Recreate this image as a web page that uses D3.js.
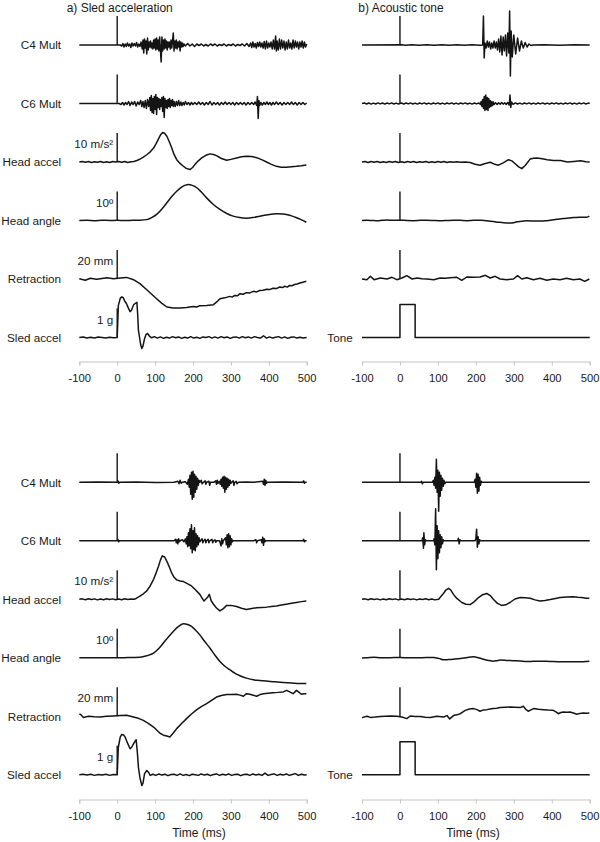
<!DOCTYPE html>
<html>
<head>
<meta charset="utf-8">
<script src="https://cdn.jsdelivr.net/npm/d3@7"></script>
<style>
  html, body { margin: 0; padding: 0; background: #fff; }
  svg { display: block; font-family: "Liberation Sans", Arial, sans-serif; }
</style>
</head>
<body>
<svg id="chart" width="600" height="842"></svg>
<script>
// ---------------- DATA ----------------
const timeTicks = [-100, 0, 100, 200, 300, 400, 500];
const rowNames = ["C4 Mult", "C6 Mult", "Head accel", "Head angle", "Retraction", "Sled accel"];
const rightLastRowName = "Tone";
const panelTitles = ["a) Sled acceleration", "b) Acoustic tone"];
const axisTitle = "Time (ms)";
// scale-bar value per row (EMG rows in arbitrary units, unlabeled)
const scaleBarValues = [29, 29, 10, 10, 20, 1];
const scaleBarLabels = ["", "", "10 m/s²", "10º", "20 mm", "1 g"];

// ---- a) Sled acceleration, top trial: [time ms, value] ----
const sledTopC4 = [[-100,0],[8,0],[12,-1],[15,1.5],[18,-2],[21,1],[24,-1.5],[27,2],[30,-1],[33,1],[36,-2.5],[39,2],[42,-1],[45,1.5],[48,-1],[51,2.5],[54,-2],[57,1],[60,-1.5],[63,3],[66,-4],[68,5],[70,-8],[72,6],[74,-3],[76,4],[78,-9],[80,7],[82,-5],[84,3],[86,-2],[88,4],[90,-3],[92,2],[94,-4],[96,5],[98,-3],[100,6],[102,-5],[104,7],[106,-4],[108,5],[110,-6],[112,8],[114,-5],[116,-17],[118,8],[120,-6],[122,5],[124,-4],[126,6],[128,-3],[130,4],[132,-5],[134,3],[136,-2],[138,3],[140,-4],[142,5],[144,-3],[146,4],[148,12],[150,-6],[152,4],[154,-3],[156,5],[158,-4],[160,3],[162,-2],[164,4],[166,-6],[168,3],[170,-2],[172,2],[174,-1.5],[176,1],[180,-1],[186,1.5],[192,-1],[198,1],[204,-1.5],[210,1],[216,-0.5],[222,1],[228,-1],[234,0.5],[240,-1],[246,1],[252,-0.5],[258,1],[264,-1],[270,0.5],[276,-0.5],[282,1],[288,-1],[294,0.5],[300,-0.5],[306,1],[312,-1],[318,0.5],[324,-0.5],[330,1],[336,-1],[342,1.5],[348,-1.5],[352,2],[355,-2.5],[358,3],[361,-2],[364,1.5],[367,-3],[370,2.5],[373,-1.5],[376,3],[379,-2],[382,2],[385,-3],[388,3.5],[391,-4],[394,4],[397,-3],[400,2],[403,-2],[406,3],[409,-4],[412,5],[415,-4],[418,9],[420,-6],[422,4],[425,-5],[428,6],[431,-4],[434,5],[437,-3],[440,4],[443,-5],[446,3],[449,-4],[452,5],[455,-3],[458,2],[461,-4],[464,5],[467,-3],[470,4],[473,-2],[476,3],[479,-4],[482,3],[485,-2],[488,4],[491,-3],[494,3],[497,-2],[500,1]];
const sledTopC6 = [[-100,0],[5,0],[10,-1],[14,1],[18,-1.5],[22,1],[26,-1],[30,2],[34,-2],[38,1.5],[42,-1],[46,2],[50,-2.5],[54,1.5],[58,-1],[62,3],[65,-3],[68,2],[71,-4],[74,3],[77,-5],[80,4],[83,-3],[86,6],[88,-7],[90,8],[92,-9],[94,5],[96,-10],[98,7],[100,-6],[102,9],[104,-11],[106,6],[108,-4],[110,5],[112,-6],[114,4],[116,-3],[118,6],[120,-8],[122,7],[124,-14],[126,5],[128,-4],[130,3],[132,-5],[134,4],[136,-3],[138,5],[140,-4],[142,3],[144,-2],[146,4],[148,-3],[150,2],[153,-3],[156,2],[159,-2],[162,3],[165,-2],[168,1.5],[171,-2],[174,1],[177,-1.5],[180,2],[184,-1],[188,1],[192,-1.5],[196,1],[200,-1],[205,1],[210,-1],[215,1.5],[220,-1],[225,1],[230,-1.5],[235,1],[240,-1],[245,2],[250,-1.5],[255,1],[260,-1],[265,1],[270,-1.5],[275,1],[280,-1],[285,1.5],[290,-1],[295,1],[300,-1],[305,1],[310,-1.5],[315,1],[320,-1],[325,1],[330,-1],[335,1],[340,-1.5],[345,1],[350,-1],[355,1],[360,-1],[364,1.5],[368,-2],[370,7],[372,-15],[374,3],[376,-2],[379,1],[383,-1.5],[387,1],[391,-1],[395,1.5],[399,-1],[403,1],[407,-1.5],[411,1],[415,-1],[420,1.5],[425,-1],[430,1],[435,-1.5],[440,1],[445,-1],[450,1],[455,-1],[460,1.5],[465,-1],[470,1],[475,-1.5],[480,1],[485,-1],[490,1],[495,-1],[500,0.5]];
const sledTopHeadAccel = [[-100,0],[-92,0.2],[-84,-0.1],[-76,0.15],[-68,-0.2],[-60,0.1],[-52,-0.1],[-44,0.2],[-36,-0.15],[-28,0.1],[-20,-0.2],[-12,0.15],[-4,0],[4,0.2],[12,-0.1],[20,0.15],[28,-0.15],[36,0.1],[44,0.2],[52,0.5],[60,1.0],[68,1.6],[78,2.5],[88,3.6],[96,4.8],[103,6.4],[109,8.0],[115,9.5],[120,10.2],[125,9.9],[131,8.9],[138,6.8],[144,4.8],[150,2.6],[157,0.8],[165,-0.4],[173,-1.3],[182,-2.2],[192,-2.6],[199,-1.9],[205,-0.9],[214,0.4],[223,1.4],[234,2.3],[245,2.8],[254,2.6],[262,2.2],[275,1.2],[289,0.6],[300,0.9],[315,1.4],[328,1.8],[341,2.0],[355,1.9],[368,1.5],[381,0.8],[394,0],[407,-0.8],[420,-1.5],[433,-1.8],[446,-1.8],[460,-1.6],[473,-1.5],[486,-1.3],[499,-1.0]];
const sledTopHeadAngle = [[-100,0],[-80,0.05],[-60,-0.05],[-40,0.1],[-20,0],[0,0.05],[20,0],[40,0.05],[60,0.1],[78,0.3],[91,1.0],[104,2.1],[118,4.0],[131,6.1],[144,8.3],[157,10.1],[170,11.5],[180,12.2],[188,12.4],[198,12.1],[210,11.3],[222,9.8],[236,7.8],[253,5.6],[271,3.8],[288,2.5],[306,1.5],[323,1.0],[341,0.8],[358,1.0],[376,1.5],[398,2.0],[420,2.3],[438,2.2],[455,1.8],[470,1.1],[485,0.3],[499,-0.6]];
const sledTopRetraction = [[-100,0.2],[-92,-0.4],[-84,-0.9],[-71,0.5],[-54,-0.2],[-40,0.4],[-27,0.9],[-10,0.2],[8,0.7],[25,1.1],[43,-0.5],[60,-3.2],[78,-7.4],[91,-10.5],[104,-13.6],[118,-16.8],[131,-19.3],[148,-20.0],[166,-20.0],[183,-19.6],[201,-18.9],[210,-19.3],[218,-18.4],[236,-18.2],[254,-17.7],[262,-16.0],[271,-13.6],[284,-13.0],[297,-12.0],[303,-12.5],[310,-11.3],[317,-11.6],[324,-10.1],[332,-10.5],[341,-9.4],[350,-9.6],[359,-8.5],[368,-8.9],[376,-7.9],[385,-7.8],[394,-7.1],[402,-7.3],[411,-6.4],[420,-6.6],[429,-5.5],[436,-5.9],[442,-5.0],[449,-5.6],[455,-4.4],[462,-4.6],[468,-3.8],[475,-3.5],[482,-2.8],[490,-2.2],[499,-1.6]];
const sledTopSled = [[-100,0],[-90,0.02],[-80,-0.02],[-70,0.01],[-60,-0.02],[-50,0.02],[-40,0],[-30,-0.02],[-20,0.01],[-10,-0.01],[0,0],[3,1.1],[8,1.35],[12,1.40],[16,1.37],[20,1.25],[24,1.18],[29,1.03],[34,0.89],[38,0.95],[43,1.12],[48,1.18],[52,1.21],[54,0.8],[56,0.25],[59,0.0],[62,-0.25],[65,-0.38],[68,-0.3],[72,-0.05],[76,0.1],[80,0.14],[85,0.05],[91,-0.01],[98,0.03],[106,-0.02],[114,0.02],[122,-0.03],[130,0.01],[138,-0.02],[146,0.03],[154,-0.01],[162,0.02],[170,-0.03],[178,0.01],[186,-0.02],[194,0.03],[202,-0.02],[210,0.01],[218,-0.03],[226,0.02],[234,0.0],[242,0.03],[250,-0.02],[258,0.02],[266,-0.02],[274,0.03],[282,-0.01],[290,0.02],[298,-0.03],[306,0.01],[314,0.02],[322,-0.02],[330,0.03],[338,-0.01],[346,0.02],[354,-0.02],[362,0.03],[370,0],[378,-0.02],[386,0.06],[394,-0.02],[402,0.02],[410,-0.02],[418,0.01],[426,0.03],[434,-0.02],[442,0.02],[450,-0.03],[458,0.01],[466,0.02],[474,-0.02],[482,0.01],[490,-0.02],[500,0]];

// ---- b) Acoustic tone, top trial ----
const toneTopC4 = [[-100,0],[5,0.3],[15,-0.3],[30,0.3],[50,-0.3],[70,0.3],[90,-0.3],[110,0.3],[130,-0.3],[150,0.3],[170,-0.3],[190,0.3],[210,-0.3],[218,0],[220,29],[222,-13],[224,2],[227,-3],[230,4],[233,-2],[236,3],[239,-4],[242,2],[245,-3],[248,4],[251,-3],[254,3],[257,-5],[260,6],[263,-7],[266,9],[269,-10],[272,8],[275,-6],[278,10],[281,-11],[284,12],[287,-8],[289,34],[291,-31],[293,14],[296,-12],[300,10],[305,-9],[310,7],[315,-6],[320,4],[325,-3],[330,2.5],[335,-2],[340,1],[345,-0.5],[350,0],[380,0.3],[420,-0.3],[460,0.3],[500,0]];
const toneTopC6 = [[-100,0],[-94,0.6],[-88,-0.5],[-82,0.5],[-76,-0.6],[-70,0.4],[-64,-0.5],[-58,0.6],[-52,-0.4],[-46,0.5],[-40,-0.6],[-34,0.5],[-28,-0.4],[-22,0.6],[-16,-0.5],[-10,0.4],[-4,-0.5],[0,0],[4,0.5],[10,-0.6],[16,0.5],[22,-0.4],[28,0.6],[34,-0.5],[40,0.4],[46,-0.6],[52,0.5],[58,-0.4],[64,0.6],[70,-0.5],[76,0.4],[82,-0.6],[88,0.5],[94,-0.4],[100,0.6],[106,-0.5],[112,0.4],[118,-0.6],[124,0.5],[130,-0.4],[136,0.6],[142,-0.5],[148,0.4],[154,-0.6],[160,0.5],[166,-0.4],[172,0.6],[178,-0.5],[184,0.4],[190,-0.6],[196,0.5],[202,-0.4],[208,0.6],[212,-1],[214,2],[216,-3],[218,4],[220,-5],[222,7],[224,-7],[226,8.5],[228,-6],[230,6],[232,-7],[234,5],[236,-4],[238,3],[240,-3],[242,2],[244,-2],[246,1.5],[248,-1],[252,0.8],[256,-1],[260,0.8],[264,-0.8],[268,1],[272,-0.6],[276,0.8],[280,-1],[284,1],[288,-1.5],[290,8.5],[292,-4],[294,1.5],[298,-0.8],[304,0.6],[310,-0.5],[316,0.4],[322,-0.6],[328,0.5],[334,-0.4],[340,0.6],[346,-0.5],[352,0.4],[358,-0.6],[364,0.5],[370,-0.4],[376,0.6],[382,-0.5],[388,0.4],[394,-0.6],[400,0.5],[406,-0.4],[412,0.6],[418,-0.5],[424,0.4],[430,-0.6],[436,0.5],[442,-0.4],[448,0.6],[454,-0.5],[460,0.4],[466,-0.6],[472,0.5],[478,-0.4],[484,0.6],[490,-0.5],[496,0.4],[500,0]];
const toneTopHeadAccel = [[-100,0],[-92,0.2],[-84,-0.15],[-76,0.2],[-68,-0.1],[-60,0.15],[-52,-0.2],[-44,0.1],[-36,-0.15],[-28,0.2],[-20,-0.1],[-12,0.15],[-4,-0.2],[4,0.1],[12,-0.15],[20,0.2],[28,-0.1],[36,0.15],[44,-0.2],[52,0.1],[60,-0.1],[68,0.2],[76,-0.15],[84,0.1],[92,-0.2],[100,0.15],[108,-0.1],[116,0.2],[124,-0.15],[132,0.1],[140,-0.1],[150,0.1],[160,-0.1],[172,0],[185,-0.2],[198,-0.8],[211,-1.1],[225,-0.5],[238,-0.1],[250,-0.8],[260,-1.1],[272,-0.3],[286,0.8],[295,0.4],[303,-0.5],[312,-1.6],[321,-2.3],[330,-1.2],[343,1.0],[352,1.3],[361,1.4],[375,1.1],[388,0.8],[405,0.5],[423,0.5],[441,0],[458,0.2],[476,0.4],[490,0.1],[500,0]];
const toneTopHeadAngle = [[-100,0],[-87,0.1],[-73,0],[-60,-0.1],[-47,0.05],[-34,0.2],[-17,0.05],[1,0.1],[18,0],[36,-0.05],[54,0.05],[71,0.1],[89,0],[106,-0.1],[124,0],[141,0.1],[159,0.05],[176,-0.05],[194,0.05],[211,0.1],[228,-0.1],[246,-0.35],[260,-0.6],[273,-0.8],[290,-0.9],[300,-0.75],[308,-0.45],[321,-0.3],[334,-0.1],[352,-0.15],[369,-0.2],[383,-0.1],[396,0.1],[414,0.4],[431,0.7],[444,0.85],[457,1.0],[475,1.1],[492,1.15],[499,1.5]];
const toneTopRetraction = [[-100,0],[-87,-0.46],[-78,1.84],[-68,-0.46],[-52,0.69],[-34,0],[-21,1.15],[-8,-0.46],[5,0.69],[18,2.3],[32,0],[45,0.69],[58,0.2],[71,0],[89,-0.46],[106,0.69],[119,0.5],[132,0.92],[150,1.15],[163,-0.92],[176,1.38],[194,1.15],[211,1.38],[225,2.53],[238,0.69],[251,1.84],[264,0],[282,-0.46],[299,0],[310,2.3],[321,0],[334,0.92],[352,-0.46],[369,0.46],[387,-0.92],[404,0],[422,-0.46],[439,0.46],[457,-0.46],[474,0],[487,-1.6],[499,0]];
const toneTopTone = [[-100,0],[0,0],[0,1],[40,1],[40,0],[500,0]];

// ---- a) Sled acceleration, bottom trial ----
const sledBotC4 = [[-100,0],[-50,0.3],[0,0],[2,1.5],[4,-1],[6,0],[50,0.3],[100,-0.3],[150,0],[160,1],[163,-1.5],[166,2],[169,-1],[172,0],[180,0.5],[185,-2],[188,3],[190,-5],[192,7],[194,-12],[196,10],[198,-17],[200,11],[202,-15],[204,8],[206,-10],[208,6],[210,-7],[212,4],[214,-3],[216,2],[218,0],[222,2],[224,-1.5],[228,0],[232,1.5],[234,-2],[236,0],[242,1],[244,-3],[246,0],[255,0],[260,1.5],[262,-2],[264,2],[266,-1],[270,1],[272,-2],[274,3],[276,-4],[278,5],[280,-6],[282,6],[284,-10],[286,5],[288,-7],[290,4],[292,-5],[294,3],[296,-3],[298,2],[300,-1],[302,0],[306,1.5],[308,-3],[310,0],[314,1],[316,-1.5],[320,0],[340,0.3],[360,0],[384,1],[386,-2],[388,3],[390,-3],[392,2],[394,-1],[396,0],[440,0.3],[490,0],[492,1.5],[494,-1],[496,0],[500,0]];
const sledBotC6 = [[-100,0],[0,0],[2,1.5],[4,-1],[6,0],[150,0],[154,1.5],[156,-2],[158,1],[160,-3],[162,2],[164,-1],[166,0],[172,1],[176,-1],[180,2],[182,-3],[184,4],[186,-6],[188,8],[190,-5],[192,12],[194,-8],[196,16],[198,-12],[200,10],[202,-9],[204,13],[206,-10],[208,7],[210,-6],[212,5],[214,-4],[216,3],[218,-1],[220,0],[224,2],[226,-2],[228,0],[232,1.5],[234,-2],[236,0],[240,1.5],[242,-2],[244,0],[250,1.5],[252,-2],[254,0],[258,1],[260,-1.5],[262,0],[270,0],[274,-5],[276,2],[278,-3],[280,0],[286,3],[288,-4],[290,6],[292,-7],[294,7],[296,-6],[298,5],[300,-4],[302,2],[304,-1],[306,0],[360,0],[366,1],[368,-2],[370,0],[380,1],[382,-2],[384,3.5],[386,-4.5],[388,2],[390,-1],[392,0],[490,0],[492,1.5],[494,-1],[496,0],[500,0]];
const sledBotHeadAccel = [[-100,0],[-92,0.15],[-84,-0.15],[-76,0.2],[-68,-0.1],[-60,0.15],[-52,-0.2],[-44,0.1],[-36,-0.15],[-28,0.2],[-20,-0.1],[-12,0.15],[-4,-0.15],[4,0.1],[12,-0.15],[20,0.2],[28,-0.1],[36,0.1],[44,0],[50,0.3],[60,1.1],[69,1.9],[78,2.9],[87,4.6],[96,6.9],[103,9.2],[109,11.4],[114,13.5],[119,15.0],[125,14.6],[131,13.1],[138,11.0],[144,9.0],[150,7.6],[157,6.7],[166,6.3],[175,6.1],[185,5.4],[196,4.6],[207,3.2],[218,1.7],[224,0.4],[229,-0.6],[234,0.1],[238,0.6],[243,1.7],[248,-0.5],[254,-1.7],[262,-3.0],[271,-4.0],[280,-3.2],[289,-2.1],[300,-2.1],[315,-2.5],[328,-3.1],[341,-3.5],[355,-3.2],[368,-2.9],[381,-2.8],[394,-2.7],[407,-2.5],[420,-2.3],[433,-2.0],[446,-1.7],[460,-1.4],[473,-1.1],[486,-0.8],[499,-0.6]];
const sledBotHeadAngle = [[-100,0],[-60,0.05],[-20,0],[20,0.05],[60,0.2],[78,0.7],[96,1.6],[109,3.1],[122,5.1],[135,7.2],[148,9.1],[162,10.8],[175,11.7],[186,11.5],[196,10.8],[207,9.5],[218,7.9],[231,5.6],[245,3.3],[258,0.9],[271,-1.3],[284,-2.9],[297,-4.1],[310,-5.3],[324,-6.2],[341,-7.0],[359,-7.6],[376,-7.8],[394,-8.0],[416,-8.3],[438,-8.5],[460,-8.7],[482,-8.9],[499,-8.9]];
const sledBotRetraction = [[-100,1.4],[-97,1.4],[-89,-0.9],[-82,-0.3],[-75,0],[-60,-0.3],[-45,-0.5],[-28,0],[-10,0.2],[8,0.5],[25,0.7],[43,-0.5],[56,-1.4],[69,-2.8],[83,-5.0],[96,-7.4],[104,-9.5],[113,-11.7],[122,-13.0],[131,-13.6],[139,-14.3],[148,-11.5],[157,-8.5],[170,-5.0],[183,-1.6],[196,1.6],[210,4.6],[223,6.9],[236,8.7],[249,11.0],[262,13.3],[275,14.4],[289,15.0],[302,15.0],[315,15.2],[324,14.6],[333,13.8],[341,15.6],[350,15.2],[359,14.5],[368,13.8],[377,15.0],[386,15.6],[398,15.9],[411,16.3],[424,16.5],[438,16.8],[447,17.9],[455,16.8],[464,15.6],[473,17.9],[480,16.5],[486,15.2],[493,15.6],[499,15.6]];
const sledBotSled = [[-100,0],[-90,0.02],[-80,-0.01],[-70,0.02],[-60,-0.02],[-50,0.01],[-40,-0.01],[-30,0.02],[-20,-0.02],[-10,0.01],[0,0],[3,0.95],[8,1.3],[12,1.39],[17,1.37],[21,1.30],[27,1.1],[34,0.90],[38,0.95],[43,1.07],[47,1.15],[50,1.21],[53,0.8],[56,0.26],[60,-0.1],[65,-0.37],[68,-0.3],[72,0.03],[78,0.15],[83,0.08],[87,-0.02],[94,0.02],[102,-0.02],[110,0.03],[118,-0.01],[126,0.02],[134,-0.03],[142,0.01],[150,0.02],[158,-0.02],[166,0.03],[174,-0.02],[182,0.01],[190,-0.03],[198,0.02],[206,0],[214,-0.02],[222,0.03],[230,-0.01],[238,0.02],[246,-0.03],[254,0.01],[262,0.03],[270,-0.02],[278,0.02],[286,-0.01],[294,0.03],[302,-0.02],[310,0.01],[318,0.02],[326,-0.03],[334,0.01],[342,0.02],[350,-0.02],[358,0.03],[366,-0.01],[374,0.02],[382,-0.02],[390,0.06],[398,-0.02],[406,0.01],[414,0.03],[422,-0.02],[430,0.02],[438,-0.01],[446,0.03],[454,-0.02],[462,0.01],[470,0.04],[478,-0.02],[486,0.02],[494,-0.01],[500,0]];

// ---- b) Acoustic tone, bottom trial ----
const toneBotC4 = [[-100,0],[55,0],[57,1],[59,-1.5],[61,0],[85,0],[88,2],[90,-3],[92,5],[94,-6],[96,23],[98,-10],[100,12],[102,-29],[104,10],[106,-14],[108,7],[110,-8],[112,4],[114,-4],[116,2],[118,-1.5],[120,0],[196,0],[198,3],[200,-5],[202,9],[204,-11],[206,8],[208,-9],[210,5],[212,-3],[214,1],[216,0],[500,0]];
const toneBotC6 = [[-100,0],[58,0],[60,3],[62,-7.5],[63,8],[65,-4],[67,1],[69,0],[88,0],[90,2],[92,-4],[94,32],[96,-29],[98,15],[100,-18],[102,10],[104,-12],[106,6],[108,-7],[110,4],[112,-3],[114,1],[116,0],[152,0],[154,2.5],[156,-3],[158,1],[160,0],[198,0],[200,2],[202,11.5],[204,-6.5],[206,4],[208,-3],[210,1],[212,0],[500,0]];
const toneBotHeadAccel = [[-100,0],[-92,0.15],[-84,-0.15],[-76,0.2],[-68,-0.1],[-60,0.15],[-52,-0.2],[-44,0.1],[-36,-0.15],[-28,0.2],[-20,-0.1],[-12,0.15],[-4,-0.2],[4,0.1],[12,-0.15],[20,0.2],[28,-0.1],[36,0.15],[44,-0.2],[52,0.1],[60,-0.1],[68,0.2],[76,-0.15],[84,0.1],[92,-0.2],[102,0],[108,1.0],[115,2.1],[121,3.2],[128,3.8],[134,3.2],[141,1.7],[150,0.3],[163,-1.1],[174,-1.7],[185,-1.8],[196,-0.8],[207,0.6],[218,1.6],[229,2.0],[238,1.3],[246,0],[257,-1.4],[268,-2.1],[279,-1.9],[290,-1.1],[303,0.1],[317,0.6],[330,0.5],[343,0.35],[356,-0.2],[369,-0.6],[382,-0.4],[396,-0.1],[410,0.3],[422,0.6],[440,0.8],[457,0.9],[468,0.7],[479,0.6],[490,0.4],[499,0.35]];
const toneBotHeadAngle = [[-100,-0.1],[-85,0.05],[-69,0.2],[-50,0],[-34,0],[-15,0.1],[1,0.1],[25,0],[45,0],[70,0.1],[89,0.1],[102,-0.2],[115,-0.7],[128,-0.6],[141,-0.5],[155,-0.3],[168,-0.1],[181,0.2],[194,0.35],[207,0],[220,-0.5],[233,-0.9],[246,-1.15],[255,-1.0],[264,-0.8],[282,-0.9],[299,-1.0],[317,-1.1],[334,-1.3],[352,-1.2],[369,-1.15],[387,-1.2],[404,-1.3],[421,-1.35],[439,-1.4],[457,-1.4],[474,-1.4],[487,-1.3],[499,-1.15]];
const toneBotRetraction = [[-100,-0.9],[-87,0],[-76,-0.9],[-64,-0.4],[-52,-0.2],[-38,0],[-25,0.2],[-8,0],[5,-0.5],[18,-1.6],[27,0.2],[40,-0.2],[54,-0.2],[67,-0.6],[80,-0.9],[97,0],[115,-0.5],[124,0.5],[131,-1.8],[141,0.5],[150,1.0],[159,1.8],[166,3.0],[172,4.1],[183,5.0],[194,5.3],[203,4.6],[211,3.5],[220,4.4],[229,4.6],[238,5.0],[246,5.3],[255,5.6],[264,6.0],[277,6.2],[290,6.4],[303,6.2],[317,6.0],[325,6.9],[331,5.0],[338,3.5],[345,4.4],[352,5.3],[365,4.8],[378,4.6],[391,4.3],[404,4.1],[411,3.0],[417,1.8],[424,2.6],[431,3.0],[440,2.8],[448,3.0],[457,2.3],[466,1.4],[474,2.0],[483,2.3],[491,2.1],[499,2.3]];
const toneBotTone = [[-100,0],[0,0],[0,1],[40,1],[40,0],[500,0]];

// ---------------- LAYOUT ----------------
const svg = d3.select("#chart");
const INK = "#141414";
const BAR_PX = 29, TONE_PX = 33, ROW_STEP = 58.5;
const groups = [
  { firstBase: 45,    axisY: 361.5 },
  { firstBase: 482.3, axisY: 799.5 }
];
const columns = [
  { range: [79.3, 306.7], titleX: 66.7, labelRight: 61, toneLabelRight: 352.7, axisTitleX: 199 },
  { range: [362, 589.7],  titleX: 358.3, labelRight: null, toneLabelRight: 352.7, axisTitleX: 473 }
];
const panels = [
  { col: 0, grp: 0, traces: [sledTopC4, sledTopC6, sledTopHeadAccel, sledTopHeadAngle, sledTopRetraction, sledTopSled] },
  { col: 1, grp: 0, traces: [toneTopC4, toneTopC6, toneTopHeadAccel, toneTopHeadAngle, toneTopRetraction, toneTopTone] },
  { col: 0, grp: 1, traces: [sledBotC4, sledBotC6, sledBotHeadAccel, sledBotHeadAngle, sledBotRetraction, sledBotSled] },
  { col: 1, grp: 1, traces: [toneBotC4, toneBotC6, toneBotHeadAccel, toneBotHeadAngle, toneBotRetraction, toneBotTone] }
];

panelTitles.forEach((t, i) => {
  svg.append("text").attr("x", columns[i].titleX).attr("y", 11.5)
    .attr("font-size", 12).attr("fill", "#1a1a1a").text(t);
});

panels.forEach(p => {
  const col = columns[p.col], grp = groups[p.grp];
  const x = d3.scaleLinear().domain([-100, 500]).range(col.range);
  const g = svg.append("g");

  p.traces.forEach((trace, r) => {
    const base = grp.firstBase + r * ROW_STEP;
    const isTone = (p.col === 1 && r === 5);
    const y = isTone
      ? d3.scaleLinear().domain([0, 1]).range([base, base - TONE_PX])
      : d3.scaleLinear().domain([0, scaleBarValues[r]]).range([base, base - BAR_PX]);

    const curve = (r === 3) ? d3.curveMonotoneX : d3.curveLinear;
    const line = d3.line().x(d => x(d[0])).y(d => y(d[1])).curve(isTone ? d3.curveLinear : curve);

    g.append("path").datum(trace).attr("d", line)
      .attr("fill", "none").attr("stroke", INK)
      .attr("stroke-width", 1.5).attr("stroke-linejoin", "round");

    if (!isTone) {
      g.append("line")
        .attr("x1", x(0)).attr("x2", x(0))
        .attr("y1", y(0)).attr("y2", y(scaleBarValues[r]))
        .attr("stroke", INK).attr("stroke-width", 1.4);
      if (p.col === 0 && scaleBarLabels[r]) {
        g.append("text").attr("x", x(0) - 4).attr("y", base - 14)
          .attr("text-anchor", "end").attr("font-size", 11.7).attr("fill", "#1a1a1a")
          .text(scaleBarLabels[r]);
      }
    }
    if (p.col === 0) {
      g.append("text").attr("x", col.labelRight).attr("y", base + 4.2)
        .attr("text-anchor", "end").attr("font-size", 11.7).attr("fill", "#1a1a1a")
        .text(rowNames[r]);
    } else if (isTone) {
      g.append("text").attr("x", col.toneLabelRight).attr("y", base + 4.2)
        .attr("text-anchor", "end").attr("font-size", 11.7).attr("fill", "#1a1a1a")
        .text(rightLastRowName);
    }
  });

  const axis = d3.axisBottom(x).tickValues(timeTicks).tickSize(4).tickPadding(8.5)
    .tickFormat(d => String(d));
  const ag = g.append("g").attr("transform", `translate(0,${grp.axisY})`).call(axis);
  ag.select(".domain").attr("stroke", "#c4c4c4").attr("stroke-width", 1);
  ag.selectAll(".tick line").attr("stroke", "#c4c4c4").attr("stroke-width", 1);
  ag.selectAll(".tick text").attr("font-size", 11.2).attr("fill", "#1a1a1a")
    .attr("font-family", "Liberation Sans, Arial, sans-serif");

  if (p.grp === 1) {
    g.append("text").attr("x", col.axisTitleX).attr("y", 836.5)
      .attr("text-anchor", "middle").attr("font-size", 12).attr("fill", "#1a1a1a")
      .text(axisTitle);
  }
});
</script>
</body>
</html>
